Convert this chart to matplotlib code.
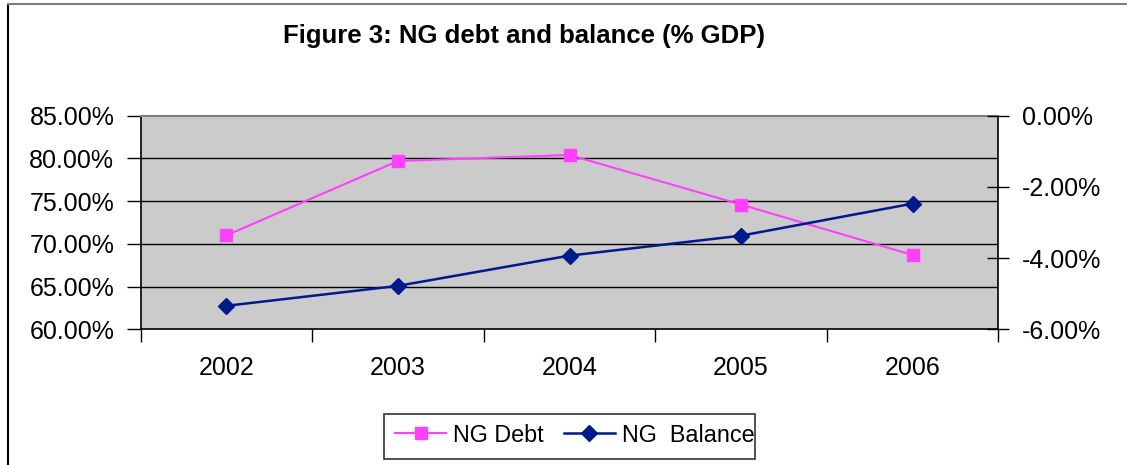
import matplotlib
matplotlib.use("Agg")
import matplotlib.pyplot as plt
from matplotlib.lines import Line2D
from matplotlib.patches import Rectangle
from matplotlib.ticker import FixedLocator, FuncFormatter

plt.rcParams['font.family'] = ['Liberation Sans', 'DejaVu Sans']

years = ['2002', '2003', '2004', '2005', '2006']
ng_debt = [71.0, 79.7, 80.4, 74.6, 68.7]          # % GDP (left axis)
ng_balance = [-5.34, -4.78, -3.93, -3.37, -2.47]  # % GDP (right axis)
left_ticks = [60, 65, 70, 75, 80, 85]
right_ticks = [-6, -4, -2, 0]

W, H = 1127, 465
FS = 18
LFS = 16.8
fig = plt.figure(figsize=(W / 100, H / 100), dpi=100)

# outer frame lines (left and top)
fig.add_artist(Line2D([8 / W, 8 / W], [0, 1 - 4 / H], color='black', lw=1.5, transform=fig.transFigure))
fig.add_artist(Line2D([8 / W, 1], [1 - 4 / H, 1 - 4 / H], color='#808080', lw=1.5, transform=fig.transFigure))

x0, x1, ytop, ybot = 140.7, 998.3, 115.7, 329.3
ax = fig.add_axes([x0 / W, (H - ybot) / H, (x1 - x0) / W, (ybot - ytop) / H])
ax.set_facecolor('#CBCBCB')

x = list(range(len(years)))
ax.set_xlim(-0.5, len(years) - 0.5)
ax.set_ylim(60, 85)
ax.set_yticks(left_ticks)
ax.yaxis.set_major_formatter(FuncFormatter(lambda v, p: f"{v:.2f}%"))
for v in left_ticks[1:-1]:
    ax.axhline(v, color='black', lw=1.0, zorder=1)

ax.set_xticks(x)
ax.set_xticklabels(years)
ax.xaxis.set_minor_locator(FixedLocator([i - 0.5 for i in range(len(years) + 1)]))
ax.tick_params(axis='x', which='major', length=0, pad=19, labelsize=FS)
ax.tick_params(axis='x', which='minor', length=9, width=1, direction='out', color='black')
ax.tick_params(axis='y', length=10, width=1, direction='out', pad=9, labelsize=FS, color='black')

for s in ['left', 'bottom', 'right']:
    ax.spines[s].set_color('black')
    ax.spines[s].set_linewidth(1.2)
ax.spines['top'].set_color('#808080')
ax.spines['top'].set_linewidth(1.5)

l1, = ax.plot(x, ng_debt, color='#FF40FF', lw=1.5, marker='s', markersize=9,
              markeredgecolor='#FF40FF', zorder=3, label='NG Debt')

ax2 = ax.twinx()
ax2.set_ylim(-6, 0)
ax2.set_yticks(right_ticks)
ax2.yaxis.set_major_formatter(FuncFormatter(lambda v, p: f"{v:.2f}%"))
ax2.tick_params(axis='y', length=16, width=1, direction='inout', pad=9, labelsize=FS, color='black')
for s in ax2.spines.values():
    s.set_visible(False)
l2, = ax2.plot(x, ng_balance, color='#001A8C', lw=1.8, marker='D', markersize=8.5,
               markeredgecolor='#001A8C', zorder=3, label='NG  Balance')

fig.text(524 / W, 1 - 36 / H, 'Figure 3: NG debt and balance (% GDP)', ha='center', va='center',
         fontsize=18.5, fontweight='bold')

# legend frame (text overflows it slightly, as in the original)
fig.add_artist(Rectangle((384 / W, 1 - 459 / H), (755 - 384) / W, 45 / H, transform=fig.transFigure,
                         facecolor='none', edgecolor='#333333', lw=1.2))
leg = fig.legend(handles=[l1, l2], labels=['NG Debt', 'NG  Balance'], ncol=2,
                 loc='center left', bbox_to_anchor=(395 / W, 1 - 435 / H),
                 fontsize=LFS, frameon=False,
                 handlelength=2.2, handletextpad=0.3, columnspacing=0.85, borderpad=0,
                 borderaxespad=0)

fig.savefig('out.png', dpi=100)
